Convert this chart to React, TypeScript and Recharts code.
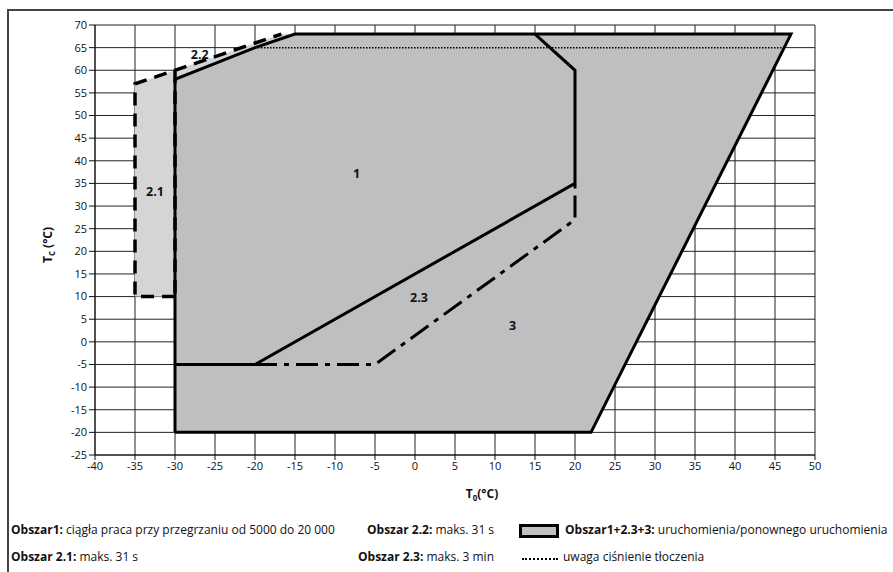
import React from 'react';
import { ComposedChart, Scatter, XAxis, YAxis, CartesianGrid } from 'recharts';

// axis ticks (°C)
const t0Ticks = [-40, -35, -30, -25, -20, -15, -10, -5, 0, 5, 10, 15, 20, 25, 30, 35, 40, 45, 50];
const tcTicks = [-25, -20, -15, -10, -5, 0, 5, 10, 15, 20, 25, 30, 35, 40, 45, 50, 55, 60, 65, 70];

// Obszar 1+2.3+3 envelope
const envelope = [
  { x: -30, y: -20 },
  { x: -30, y: 58 },
  { x: -20, y: 65 },
  { x: -15, y: 68 },
  { x: 47, y: 68 },
  { x: 22, y: -20 },
  { x: -30, y: -20 },
];

// Obszar 2.1 + 2.2 (light)
const area21and22 = [
  { x: -35, y: 10 },
  { x: -35, y: 57 },
  { x: -30, y: 60 },
  { x: -16.7, y: 68 },
  { x: -15, y: 68 },
  { x: -20, y: 65 },
  { x: -30, y: 58 },
  { x: -30, y: 10 },
];

// boundary of Obszar 1
const area1Border = [
  { x: -30, y: -5 },
  { x: -20, y: -5 },
  { x: 20, y: 35 },
  { x: 20, y: 60 },
  { x: 15, y: 68 },
];

// boundary of Obszar 2.3 (dash-dot)
const area23Border = [
  { x: -20, y: -5 },
  { x: -5, y: -5 },
  { x: 20, y: 27 },
  { x: 20, y: 35 },
];

// boundary of Obszar 2.1 / 2.2 (dashed)
const area21Border = [
  { x: -30, y: 10 },
  { x: -35, y: 10 },
  { x: -35, y: 57 },
  { x: -16.7, y: 68 },
];
const area21Right = [
  { x: -30, y: 60 },
  { x: -30, y: 10 },
];

// discharge pressure warning
const pressureLine = [
  { x: -20, y: 65 },
  { x: 46, y: 65 },
];

const regionLabels = [
  { x: -7.3, y: 37.3, text: '1' },
  { x: -32.5, y: 33.2, text: '2.1' },
  { x: -26.9, y: 63.4, text: '2.2' },
  { x: 0.5, y: 9.9, text: '2.3' },
  { x: 12.2, y: 3.6, text: '3' },
];

const FONT = '"Open Sans", sans-serif';
const DARK = '#bebfc1';
const LIGHT = '#d5d5d7';

const noDot = () => <g />;

const LabelShape = (props: any) => (
  <text
    x={props.cx}
    y={props.cy}
    textAnchor="middle"
    dominantBaseline="central"
    fontSize={12.5}
    fontWeight={700}
    fontFamily={FONT}
    fill="#111"
  >
    {props.payload.text}
  </text>
);

const legendText: React.CSSProperties = {
  position: 'absolute',
  fontSize: 12,
  fontFamily: FONT,
  color: '#111',
  whiteSpace: 'nowrap',
  lineHeight: '14px',
};

export default function App() {
  return (
    <div style={{ position: 'absolute', left: 0, top: 0, width: 893, height: 572, overflow: 'hidden', background: '#fff' }}>
      <div
        style={{
          position: 'absolute',
          left: 7,
          top: 9,
          width: 950,
          height: 600,
          borderTop: '2px solid #444',
          borderLeft: '2px solid #444',
        }}
      />
      <div style={{ position: 'absolute', left: 0, top: 0 }}>
        <ComposedChart width={893} height={572} margin={{ top: 25, right: 78, left: 55, bottom: 87 }}>
          <CartesianGrid stroke="#222" strokeWidth={1} />
          <XAxis
            type="number"
            dataKey="x"
            domain={[-40, 50]}
            ticks={t0Ticks}
            interval={0}
            allowDataOverflow
            height={30}
            tickSize={5}
            axisLine={{ stroke: '#111' }}
            tickLine={{ stroke: '#111' }}
            tick={{ fill: '#111', fontSize: 11, fontFamily: FONT }}
          />
          <YAxis
            type="number"
            dataKey="y"
            domain={[-25, 70]}
            ticks={tcTicks}
            interval={0}
            allowDataOverflow
            width={40}
            tickSize={6}
            axisLine={{ stroke: '#111' }}
            tickLine={{ stroke: '#111' }}
            tick={{ fill: '#111', fontSize: 11, fontFamily: FONT }}
          />
          <Scatter data={area21and22} shape={noDot} line={{ fill: LIGHT, stroke: 'none' }} isAnimationActive={false} />
          <Scatter data={envelope} shape={noDot} line={{ fill: DARK, stroke: '#000', strokeWidth: 3 }} isAnimationActive={false} />
          <Scatter data={area1Border} shape={noDot} line={{ fill: 'none', stroke: '#000', strokeWidth: 3 }} isAnimationActive={false} />
          <Scatter
            data={area23Border}
            shape={noDot}
            line={{ fill: 'none', stroke: '#000', strokeWidth: 3, strokeDasharray: '22 7 5 7' }}
            isAnimationActive={false}
          />
          <Scatter
            data={area21Border}
            shape={noDot}
            line={{ fill: 'none', stroke: '#000', strokeWidth: 3.5, strokeDasharray: '13 8' }}
            isAnimationActive={false}
          />
          <Scatter
            data={area21Right}
            shape={noDot}
            line={{ fill: 'none', stroke: '#000', strokeWidth: 3.5, strokeDasharray: '13 8' }}
            isAnimationActive={false}
          />
          <Scatter
            data={pressureLine}
            shape={noDot}
            line={{ fill: 'none', stroke: '#000', strokeWidth: 1.5, strokeDasharray: '1.5 1.5' }}
            isAnimationActive={false}
          />
          <Scatter data={regionLabels} shape={LabelShape} isAnimationActive={false} />
        </ComposedChart>
      </div>

      {/* axis titles */}
      <div
        style={{
          position: 'absolute',
          left: 48,
          top: 245,
          transform: 'translate(-50%, -50%) rotate(-90deg)',
          fontSize: 12,
          fontWeight: 700,
          fontFamily: FONT,
          whiteSpace: 'nowrap',
          color: '#111',
        }}
      >
        T<sub style={{ fontSize: 8 }}>C</sub> (°C)
      </div>
      <div
        style={{
          position: 'absolute',
          left: 482,
          top: 494,
          transform: 'translate(-50%, -50%)',
          fontSize: 12,
          fontWeight: 700,
          fontFamily: FONT,
          whiteSpace: 'nowrap',
          color: '#111',
        }}
      >
        T<sub style={{ fontSize: 8 }}>0</sub>(°C)
      </div>

      {/* legend */}
      <div style={{ ...legendText, left: 11, top: 523 }}>
        <b>Obszar1:</b> ciągła praca przy przegrzaniu od 5000 do 20 000
      </div>
      <div style={{ ...legendText, left: 367, top: 523 }}>
        <b>Obszar 2.2:</b> maks. 31 s
      </div>
      <div
        style={{
          position: 'absolute',
          left: 519,
          top: 524,
          width: 34,
          height: 8,
          background: DARK,
          border: '3px solid #000',
        }}
      />
      <div style={{ ...legendText, left: 565, top: 523 }}>
        <b>Obszar1+2.3+3:</b> uruchomienia/ponownego uruchomienia
      </div>
      <div style={{ ...legendText, left: 11, top: 550 }}>
        <b>Obszar 2.1:</b> maks. 31 s
      </div>
      <div style={{ ...legendText, left: 358, top: 550 }}>
        <b>Obszar 2.3:</b> maks. 3 min
      </div>
      <div
        style={{
          position: 'absolute',
          left: 522,
          top: 558,
          width: 36,
          height: 0,
          borderTop: '2px dotted #000',
        }}
      />
      <div style={{ ...legendText, left: 563, top: 550 }}>uwaga ciśnienie tłoczenia</div>
    </div>
  );
}
